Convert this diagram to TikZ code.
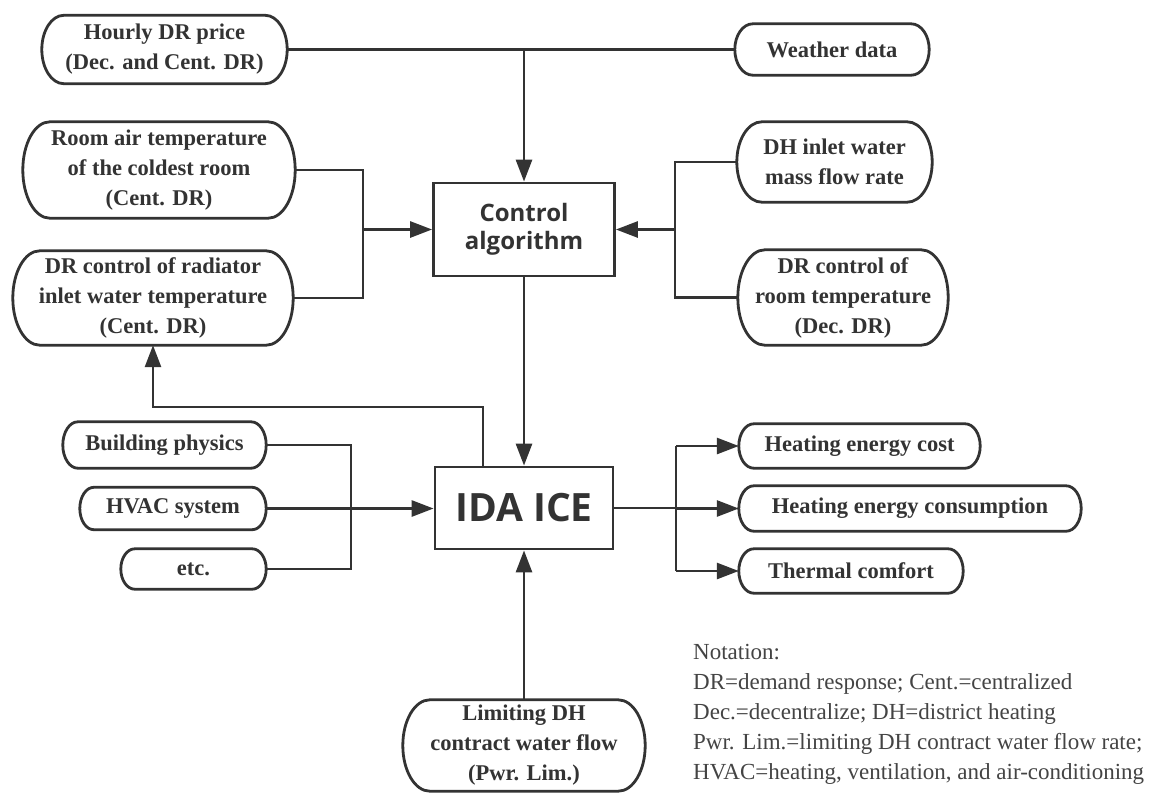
\documentclass[tikz,border=0pt]{standalone}
\usepackage{fontspec}
\setmainfont{Liberation Serif}
\newfontfamily\ctrlfont{Open Sans}
\usetikzlibrary{calc,arrows.meta}
\definecolor{ink}{HTML}{333333}
\definecolor{notegray}{HTML}{444444}
\tikzset{
  pill/.style={draw=none, inner sep=0pt, align=center, text=ink,
    font=\fontsize{22.5}{30}\selectfont\bfseries},
  blk/.style={draw=ink, line width=2.8pt, inner sep=0pt, text=ink, align=center},
  wire/.style={draw=ink, line width=2.8pt},
  arr/.style={wire, -{Triangle[length=22pt,width=16pt]}},
  pillline/.style={draw=ink, line width=2.8pt},
}
\newcommand{\pillbd}[2]{%
  \path[pillline] let \p1=(#1.north west), \p2=(#1.south east), \n1={(\y1-\y2)/2} in
    (\x1+#2pt,\y1) -- (\x2-#2pt,\y1)
    arc[start angle=90,end angle=-90,x radius=#2pt,y radius={\n1*1pt}]
    -- (\x1+#2pt,\y2)
    arc[start angle=270,end angle=90,x radius=#2pt,y radius={\n1*1pt}] -- cycle;}
\begin{document}
\begin{tikzpicture}[x=1pt,y=-1pt]
\fill[white] (0,0) rectangle (1156,793);
\useasboundingbox (0,0) rectangle (1156,793);

% input pills
\node[pill, minimum width=245pt, minimum height=68pt] (hourly) at (164.5,49.5) {Hourly DR price\\(Dec. and Cent. DR)};
\node[pill, minimum width=194pt, minimum height=51pt] (weather) at (832,49.5) {Weather data};
\node[pill, minimum width=272pt, minimum height=96pt] (room) at (159,170) {Room air temperature\\of the coldest room\\(Cent. DR)};
\node[pill, minimum width=280pt, minimum height=94pt] (radiator) at (153,298) {DR control of radiator\\inlet water temperature\\(Cent. DR)};
\node[pill, minimum width=195pt, minimum height=80pt] (dhin) at (834.5,162) {DH inlet water\\mass flow rate};
\node[pill, minimum width=210pt, minimum height=95pt] (drroom) at (843,297.5) {DR control of\\room temperature\\(Dec. DR)};
\node[pill, minimum width=203pt, minimum height=46pt] (bp) at (164.5,445) {Building physics};
\node[pill, minimum width=186pt, minimum height=42pt] (hvac) at (173,508.5) {HVAC system};
\node[pill, minimum width=145pt, minimum height=40pt] (etc) at (193.5,569) {etc.};
\node[pill, minimum width=241pt, minimum height=44pt] (cost) at (859.5,446) {Heating energy cost};
\node[pill, minimum width=342pt, minimum height=45pt] (cons) at (910,508.5) {Heating energy consumption};
\node[pill, minimum width=224pt, minimum height=44pt] (comfort) at (851,571) {Thermal comfort};
\node[pill, minimum width=242pt, minimum height=91pt] (limit) at (524,745.5) {Limiting DH\\contract water flow\\(Pwr. Lim.)};

\pillbd{hourly}{22}
\pillbd{weather}{18}
\pillbd{room}{27}
\pillbd{radiator}{27}
\pillbd{dhin}{25}
\pillbd{drroom}{27}
\pillbd{bp}{15}
\pillbd{hvac}{14}
\pillbd{etc}{14}
\pillbd{cost}{15}
\pillbd{cons}{15}
\pillbd{comfort}{15}
\pillbd{limit}{27}

% main blocks
\node[blk, minimum width=181pt, minimum height=93pt,
  font=\ctrlfont\bfseries\fontsize{24}{28}\selectfont] (control) at (524,229.5) {Control\\algorithm};
\node[blk, minimum width=178pt, minimum height=82pt,
  font=\ctrlfont\bfseries\fontsize{39}{44}\selectfont] (ida) at (524,508) {IDA ICE};

% bus coordinates
\coordinate (lbx) at (363,0);
\coordinate (rbx) at (675,0);
\coordinate (fbx) at (483,0);
\coordinate (fby) at (0,407);
\coordinate (ibx) at (351,0);
\coordinate (obx) at (676,0);

% top
\draw[wire] (hourly.east) -- (weather.west);
\coordinate (topj) at (control.north |- hourly.east);
\draw[arr] (topj) -- (control.north);

% left group to control
\draw[wire] (room.east) -- (room.east -| lbx) -- (radiator.east -| lbx) -- (radiator.east);
\draw[arr] (control.west -| lbx) -- (control.west);

% right group to control
\draw[wire] (dhin.west) -- (dhin.west -| rbx) -- (drroom.west -| rbx) -- (drroom.west);
\draw[arr] (control.east -| rbx) -- (control.east);

% control to IDA
\draw[arr] (control.south) -- (ida.north);

% feedback to radiator
\draw[arr] (ida.north -| fbx) -- (fbx |- fby) -- (radiator.south |- fby) -- (radiator.south);

% building inputs
\draw[wire] (bp.east) -- (bp.east -| ibx) -- (etc.east -| ibx) -- (etc.east);
\draw[arr] (hvac.east) -- (hvac.east -| ida.west);

% outputs
\draw[wire] (ida.east) -- (ida.east -| obx);
\draw[wire] (cost.west -| obx) -- (comfort.west -| obx);
\draw[arr] (cost.west -| obx) -- (cost.west);
\draw[arr] (cons.west -| obx) -- (cons.west);
\draw[arr] (comfort.west -| obx) -- (comfort.west);

% limit
\draw[arr] (limit.north) -- (ida.south);

% notation
\node[anchor=north west, inner sep=0pt, align=left, text=notegray,
  font=\fontsize{23}{30}\selectfont] (note) at (693,644)
  {Notation:\\DR=demand response; Cent.=centralized\\Dec.=decentralize; DH=district heating\\Pwr. Lim.=limiting DH contract water flow rate;\\HVAC=heating, ventilation, and air-conditioning};
\end{tikzpicture}
\end{document}
